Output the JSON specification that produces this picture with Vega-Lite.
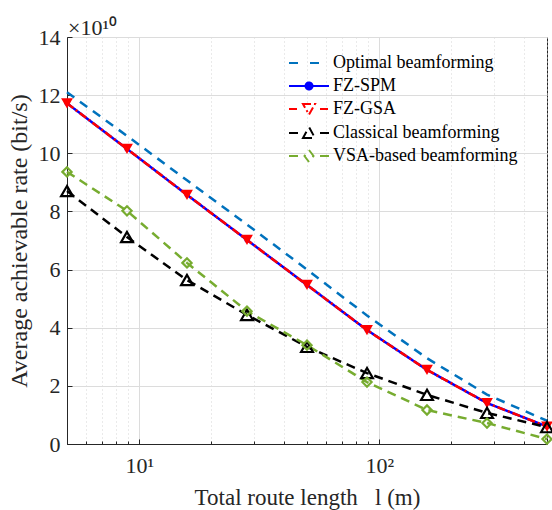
{
  "$schema": "https://vega.github.io/schema/vega-lite/v6.json",
  "autosize": {"type": "none"},
  "padding": {"left": 67, "top": 37, "right": 5, "bottom": 66},
  "width": 480,
  "height": 407,
  "background": "white",
  "title": {"text": "×10¹⁰", "anchor": "start", "frame": "group", "font": "Liberation Serif, Times New Roman, serif", "fontSize": 22, "fontWeight": "normal", "color": "#262626", "offset": -14, "dx": 1},
  "config": {
    "font": "Liberation Serif, Times New Roman, serif",
    "view": {"stroke": "#262626", "strokeWidth": 1},
    "axis": {"labelFont": "Liberation Serif, Times New Roman, serif", "titleFont": "Liberation Serif, Times New Roman, serif", "labelColor": "#262626", "titleColor": "#262626", "domainColor": "#262626", "tickColor": "#262626", "titleFontWeight": "normal", "labelFontSize": 22, "titleFontSize": 23},
    "legend": {"labelFont": "Liberation Serif, Times New Roman, serif"}
  },
  "datasets": {
    "rates": [
      {"l": 5, "rate": 12.1, "s": "Optimal beamforming"},
      {"l": 8.891, "rate": 10.6, "s": "Optimal beamforming"},
      {"l": 15.811, "rate": 9.07, "s": "Optimal beamforming"},
      {"l": 28.117, "rate": 7.55, "s": "Optimal beamforming"},
      {"l": 50, "rate": 6.0, "s": "Optimal beamforming"},
      {"l": 88.914, "rate": 4.42, "s": "Optimal beamforming"},
      {"l": 158.114, "rate": 2.95, "s": "Optimal beamforming"},
      {"l": 281.171, "rate": 1.7, "s": "Optimal beamforming"},
      {"l": 500, "rate": 0.8, "s": "Optimal beamforming"},
      {"l": 5, "rate": 11.72, "s": "FZ-SPM"},
      {"l": 8.891, "rate": 10.15, "s": "FZ-SPM"},
      {"l": 15.811, "rate": 8.57, "s": "FZ-SPM"},
      {"l": 28.117, "rate": 7.02, "s": "FZ-SPM"},
      {"l": 50, "rate": 5.47, "s": "FZ-SPM"},
      {"l": 88.914, "rate": 3.92, "s": "FZ-SPM"},
      {"l": 158.114, "rate": 2.55, "s": "FZ-SPM"},
      {"l": 281.171, "rate": 1.41, "s": "FZ-SPM"},
      {"l": 500, "rate": 0.6, "s": "FZ-SPM"},
      {"l": 5, "rate": 11.72, "s": "FZ-GSA"},
      {"l": 8.891, "rate": 10.15, "s": "FZ-GSA"},
      {"l": 15.811, "rate": 8.57, "s": "FZ-GSA"},
      {"l": 28.117, "rate": 7.02, "s": "FZ-GSA"},
      {"l": 50, "rate": 5.47, "s": "FZ-GSA"},
      {"l": 88.914, "rate": 3.92, "s": "FZ-GSA"},
      {"l": 158.114, "rate": 2.55, "s": "FZ-GSA"},
      {"l": 281.171, "rate": 1.41, "s": "FZ-GSA"},
      {"l": 500, "rate": 0.6, "s": "FZ-GSA"},
      {"l": 5, "rate": 8.7, "s": "Classical beamforming"},
      {"l": 8.891, "rate": 7.12, "s": "Classical beamforming"},
      {"l": 15.811, "rate": 5.64, "s": "Classical beamforming"},
      {"l": 28.117, "rate": 4.44, "s": "Classical beamforming"},
      {"l": 50, "rate": 3.34, "s": "Classical beamforming"},
      {"l": 88.914, "rate": 2.44, "s": "Classical beamforming"},
      {"l": 158.114, "rate": 1.69, "s": "Classical beamforming"},
      {"l": 281.171, "rate": 1.07, "s": "Classical beamforming"},
      {"l": 500, "rate": 0.58, "s": "Classical beamforming"},
      {"l": 5, "rate": 9.36, "s": "VSA-based beamforming"},
      {"l": 8.891, "rate": 8.02, "s": "VSA-based beamforming"},
      {"l": 15.811, "rate": 6.23, "s": "VSA-based beamforming"},
      {"l": 28.117, "rate": 4.57, "s": "VSA-based beamforming"},
      {"l": 50, "rate": 3.4, "s": "VSA-based beamforming"},
      {"l": 88.914, "rate": 2.13, "s": "VSA-based beamforming"},
      {"l": 158.114, "rate": 1.17, "s": "VSA-based beamforming"},
      {"l": 281.171, "rate": 0.72, "s": "VSA-based beamforming"},
      {"l": 500, "rate": 0.17, "s": "VSA-based beamforming"}
    ]
  },
  "data": {"name": "rates"},
  "encoding": {
    "x": {
      "field": "l", "type": "quantitative",
      "scale": {"type": "log", "domain": [5, 500], "nice": false},
      "axis": {
        "title": "Total route length\u00a0\u00a0\u00a0l (m)",
        "values": [5, 6, 7, 8, 9, 10, 20, 30, 40, 50, 60, 70, 80, 90, 100, 200, 300, 400, 500],
        "labelExpr": "datum.value == 10 ? '10¹' : datum.value == 100 ? '10²' : ''",
        "labelPadding": 16,
        "labelOverlap": false,
        "tickSize": {"condition": {"test": "datum.value == 10 || datum.value == 100", "value": -5}, "value": -3},
        "grid": true,
        "gridColor": {"condition": {"test": "datum.value == 10 || datum.value == 100", "value": "#dcdcdc"}, "value": "#d4d4d4"},
        "gridDash": {"condition": {"test": "datum.value == 10 || datum.value == 100", "value": []}, "value": [1, 3]},
        "titlePadding": 8
      }
    },
    "y": {
      "field": "rate", "type": "quantitative",
      "scale": {"domain": [0, 14], "nice": false},
      "axis": {
        "title": "Average achievable rate (bit/s)",
        "titleFontSize": 24,
        "values": [0, 2, 4, 6, 8, 10, 12, 14],
        "tickSize": -5,
        "labelPadding": 12,
        "gridColor": "#dcdcdc",
        "titlePadding": 7
      }
    }
  },
  "layer": [
    {
      "mark": {"type": "line", "strokeWidth": 2.5},
      "encoding": {
        "color": {
          "field": "s", "type": "nominal",
          "scale": {
            "domain": ["Optimal beamforming", "FZ-SPM", "FZ-GSA", "Classical beamforming", "VSA-based beamforming"],
            "range": ["#0072BD", "#0000FF", "#FF0000", "#000000", "#77AC30"]
          },
          "legend": {
            "title": null,
            "orient": "none",
            "legendX": 221,
            "legendY": 15,
            "padding": 0,
            "symbolSize": 400,
            "symbolStrokeWidth": 2,
            "labelOffset": 23,
            "labelFontSize": 18,
            "labelLimit": 400,
            "labelColor": "#000000",
            "rowPadding": 3,
            "encode": {
              "symbols": {
                "update": {
                  "shape": {"signal": "datum.value === 'Optimal beamforming' ? 'M-1,0H0M1.1,0H2.2' : datum.value === 'FZ-SPM' ? 'M-1,0H3M0.65,0A0.35,0.35,0,1,1,1.35,0A0.35,0.35,0,1,1,0.65,0Z' : datum.value === 'FZ-GSA' ? 'M-1,0H-0.1M2.1,0H3M0.4,-0.5L1.6,-0.5L1,0.55Z' : datum.value === 'Classical beamforming' ? 'M-1,0H-0.1M2.1,0H3M0.4,0.5L1.6,0.5L1,-0.6Z' : 'M-1,0H-0.1M2.1,0H3M1,-0.6L1.45,0L1,0.6L0.55,0Z'"},
                  "fill": {"signal": "datum.value === 'FZ-SPM' ? '#0000FF' : 'white'"},
                  "strokeDash": {"value": []}
                }
              }
            }
          }
        },
        "strokeDash": {
          "field": "s", "type": "nominal",
          "scale": {
            "domain": ["Optimal beamforming", "FZ-SPM", "FZ-GSA", "Classical beamforming", "VSA-based beamforming"],
            "range": [[9, 7], [1, 0], [8, 3, 2, 3], [9, 6], [9, 6]]
          },
          "legend": null
        }
      }
    },
    {
      "transform": [{"filter": "datum.s === 'FZ-SPM'"}],
      "mark": {"type": "point", "shape": "circle", "filled": true, "size": 25, "color": "#0000FF", "opacity": 1}
    },
    {
      "transform": [{"filter": "datum.s === 'FZ-GSA'"}],
      "mark": {"type": "point", "shape": "triangle-down", "filled": true, "size": 140, "color": "#FF0000", "opacity": 1}
    },
    {
      "transform": [{"filter": "datum.s === 'Classical beamforming'"}],
      "mark": {"type": "point", "shape": "triangle-up", "filled": false, "size": 140, "strokeWidth": 2.2, "color": "#000000", "opacity": 1}
    },
    {
      "transform": [{"filter": "datum.s === 'VSA-based beamforming'"}],
      "mark": {"type": "point", "shape": "diamond", "filled": false, "size": 85, "strokeWidth": 2.2, "color": "#77AC30", "opacity": 1}
    }
  ]
}
